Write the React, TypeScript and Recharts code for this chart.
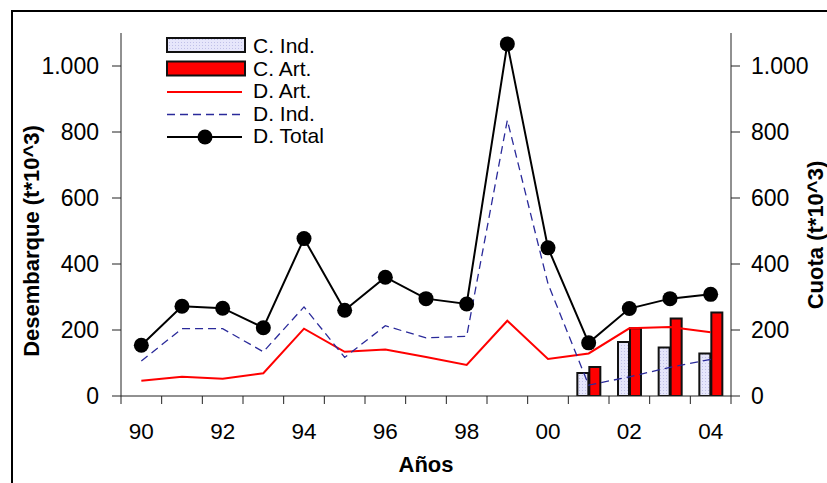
import React from 'react';
import {
  ComposedChart, Bar, Line, XAxis, YAxis,
} from 'recharts';

// años (dos dígitos)
const years = ['90', '91', '92', '93', '94', '95', '96', '97', '98', '99', '00', '01', '02', '03', '04'];
// desembarques (t*10^3)
const dTotal = [154, 272, 266, 207, 477, 260, 360, 295, 279, 1067, 449, 161, 265, 295, 308];
const dInd = [106, 204, 204, 134, 270, 117, 213, 176, 181, 836, 340, 33, 58, 87, 111];
const dArt = [46, 58, 52, 69, 204, 134, 141, 118, 94, 228, 112, 129, 205, 209, 193];
// cuotas (t*10^3), solo 2001-2004
const cInd = [null, null, null, null, null, null, null, null, null, null, null, 70, 164, 147, 129];
const cArt = [null, null, null, null, null, null, null, null, null, null, null, 88, 205, 235, 253];

const yTicks = [0, 200, 400, 600, 800, 1000];

const data = years.map((y, i) => ({
  year: y,
  dTotal: dTotal[i],
  dInd: dInd[i],
  dArt: dArt[i],
  cInd: cInd[i],
  cArt: cArt[i],
}));

const FONT = '"Liberation Sans", Arial, sans-serif';
const fmt = (v: number) => (v >= 1000 ? `${Math.floor(v / 1000)}.${String(v % 1000).padStart(3, '0')}` : String(v));

const tickStyle = { fontSize: 23, fill: '#000', fontFamily: FONT };
const xTickStyle = { fontSize: 22.5, fill: '#000', fontFamily: FONT };

// ticks at the category boundaries, label every other year
function YearTick(props: any) {
  const { x, y, payload, index } = props;
  const half = payload.offset || 0;
  const last = index === years.length - 1;
  return (
    <g>
      <line x1={x - half} x2={x - half} y1={y} y2={y + 8} stroke="#222" />
      {last && <line x1={x + half} x2={x + half} y1={y} y2={y + 8} stroke="#222" />}
      {index % 2 === 0 && (
        <text x={x} y={y + 27} dy="0.71em" textAnchor="middle" style={xTickStyle}>{payload.value}</text>
      )}
    </g>
  );
}

function LegendBox() {
  return (
    <svg width={210} height={120} style={{ display: 'block', fontFamily: FONT }}>
      <defs>
        <pattern id="dotsLeg" width="3" height="3" patternUnits="userSpaceOnUse">
          <rect width="3" height="3" fill="#e6e6fb" />
          <rect width="1" height="1" fill="#c0c0e8" />
        </pattern>
      </defs>
      <rect x={7} y={8} width={78} height={14} fill="url(#dotsLeg)" stroke="#111" strokeWidth={2} />
      <text x={93} y={23} fontSize={21}>C. Ind.</text>
      <rect x={7} y={31.5} width={78} height={14} fill="#ff0000" stroke="#111" strokeWidth={2} />
      <text x={93} y={46} fontSize={21}>C. Art.</text>
      <line x1={7} x2={82} y1={62} y2={62} stroke="#ff0000" strokeWidth={2} />
      <text x={93} y={68} fontSize={21}>D. Art.</text>
      <line x1={7} x2={82} y1={84.5} y2={84.5} stroke="#2a2a9a" strokeWidth={1.3} strokeDasharray="8 5" />
      <text x={93} y={90.5} fontSize={21}>D. Ind.</text>
      <line x1={7} x2={82} y1={107} y2={107} stroke="#000" strokeWidth={2} />
      <circle cx={45} cy={107} r={7.5} fill="#000" />
      <text x={93} y={113} fontSize={21}>D. Total</text>
    </svg>
  );
}

export default function App() {
  return (
    <div style={{ position: 'relative', width: 827, height: 483, background: '#fff', overflow: 'hidden' }}>
      <style>{'body{margin:0}'}</style>
      <div style={{
        position: 'absolute', left: 11, top: 10, width: 830, height: 490,
        borderTop: '2px solid #000', borderLeft: '2px solid #000',
      }} />
      <ComposedChart width={827} height={483} data={data}
        margin={{ top: 33, right: 0, left: 0, bottom: 0 }}
        barSize={11} barGap={1}>
        <defs>
          <pattern id="dots" width="3" height="3" patternUnits="userSpaceOnUse">
            <rect width="3" height="3" fill="#e6e6fb" />
            <rect width="1" height="1" fill="#c0c0e8" />
          </pattern>
        </defs>
        <XAxis dataKey="year" height={87} interval={0}
          axisLine={{ stroke: '#222' }} tickLine={false} tickSize={0} tickMargin={0} tick={<YearTick />} />
        <YAxis yAxisId="left" width={121} domain={[0, 1100]} ticks={yTicks} allowDataOverflow
          tickFormatter={fmt} tickSize={9} tickMargin={13} tick={tickStyle}
          axisLine={{ stroke: '#222' }} tickLine={{ stroke: '#222' }} />
        <YAxis yAxisId="right" orientation="right" width={96} domain={[0, 1100]} ticks={yTicks} allowDataOverflow
          tickFormatter={fmt} tickSize={9} tickMargin={11} tick={tickStyle}
          axisLine={{ stroke: '#222' }} tickLine={{ stroke: '#222' }} />
        <Bar yAxisId="right" dataKey="cInd" name="C. Ind." fill="url(#dots)"
          stroke="#111" strokeWidth={2} isAnimationActive={false} />
        <Bar yAxisId="right" dataKey="cArt" name="C. Art." fill="#ff0000"
          stroke="#111" strokeWidth={2} isAnimationActive={false} />
        <Line yAxisId="left" type="linear" dataKey="dArt" name="D. Art."
          stroke="#ff0000" strokeWidth={2} dot={false} isAnimationActive={false} />
        <Line yAxisId="left" type="linear" dataKey="dInd" name="D. Ind."
          stroke="#2a2a9a" strokeWidth={1.3} strokeDasharray="8 5" dot={false} isAnimationActive={false} />
        <Line yAxisId="left" type="linear" dataKey="dTotal" name="D. Total"
          stroke="#000" strokeWidth={2} dot={{ r: 7.5, fill: '#000', stroke: '#000', strokeWidth: 0 }}
          isAnimationActive={false} />
      </ComposedChart>
      <div style={{ position: 'absolute', left: 160, top: 30 }}>
        <LegendBox />
      </div>
      <div style={{
        position: 'absolute', left: 32, top: 241, transform: 'translate(-50%, -50%) rotate(-90deg)',
        fontFamily: FONT, fontWeight: 'bold', fontSize: 22, lineHeight: 1, whiteSpace: 'nowrap',
      }}>Desembarque (t*10^3)</div>
      <div style={{
        position: 'absolute', left: 816, top: 235, transform: 'translate(-50%, -50%) rotate(-90deg)',
        fontFamily: FONT, fontWeight: 'bold', fontSize: 22, lineHeight: 1, whiteSpace: 'nowrap',
      }}>Cuota (t*10^3)</div>
      <div style={{
        position: 'absolute', left: 426, top: 465, transform: 'translate(-50%, -50%)',
        fontFamily: FONT, fontWeight: 'bold', fontSize: 22, lineHeight: 1, whiteSpace: 'nowrap',
      }}>Años</div>
    </div>
  );
}
